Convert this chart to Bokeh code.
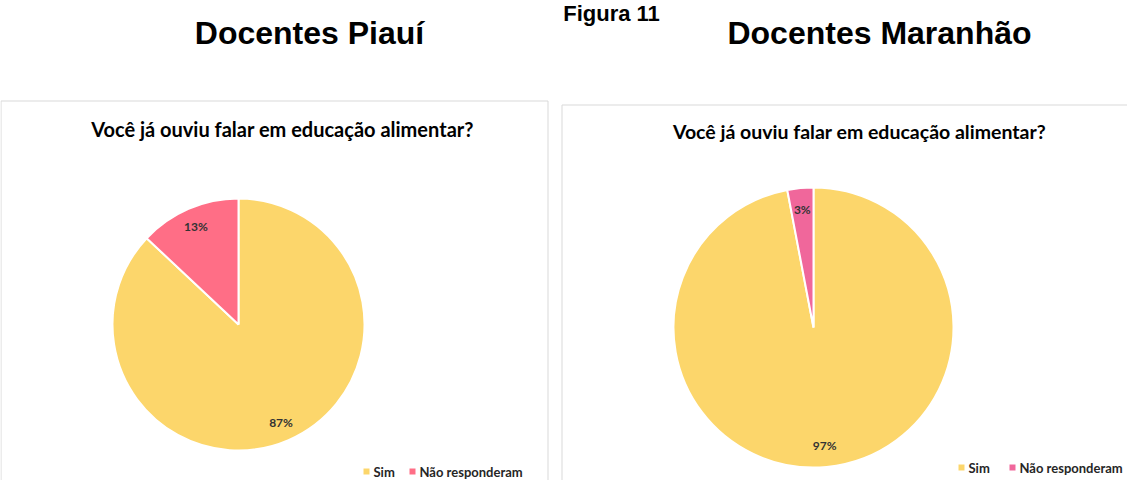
import numpy as np
from bokeh.plotting import figure
from bokeh.models import Range1d, ColumnDataSource
from bokeh.core.properties import value
from bokeh.embed import file_html
from bokeh.resources import INLINE

# ---- data ----
figure_label = "Figura 11"
headings = ["Docentes Piauí", "Docentes Maranhão"]
question = "Você já ouviu falar em educação alimentar?"
categories = ["Sim", "Não responderam"]
piaui_pct = [87, 13]
maranhao_pct = [97, 3]

# ---- styles / layout ----
YELLOW = "#FCD66B"
PINK_PI = "#FF6E86"
PINK_MA = "#F0679B"
W, H = 1127, 480

p = figure(width=W, height=H, x_range=Range1d(0, W), y_range=Range1d(-H, 0),
           output_backend="svg", toolbar_location=None, min_border=0,
           x_axis_type=None, y_axis_type=None)
p.outline_line_color = None
p.background_fill_color = "white"
p.border_fill_color = "white"
p.grid.grid_line_color = None

# figure label
p.text(x=[611], y=[-13], text=[figure_label], text_font=value("Liberation Sans"),
       text_font_style="bold", text_font_size="22px", text_align="center",
       text_baseline="middle", text_color="black")

panels = [
    dict(values=piaui_pct, heading_x=309, box=(0.5, 547.5, 100.5), title_x=282, title_y=128,
         title_size="20px", cx=238, cy=324, r=126, colors=[YELLOW, PINK_PI],
         legend_y=471, legend_x=[366, 412]),
    dict(values=maranhao_pct, heading_x=879, box=(561.5, 1300, 104.5), title_x=859, title_y=131,
         title_size="19.5px", cx=813, cy=327, r=140, colors=[YELLOW, PINK_MA],
         legend_y=467, legend_x=[961, 1012]),
]

for heading, pn in zip(headings, panels):
    # big heading
    p.text(x=[pn["heading_x"]], y=[-32], text=[heading], text_font=value("Liberation Sans"),
           text_font_style="bold", text_font_size="32px", text_align="center",
           text_baseline="middle", text_color="black")
    # panel box
    l, r_, t = pn["box"]
    p.line(x=[l, l, r_, r_], y=[-700, -t, -t, -700], line_color="#D9D9D9", line_width=1)
    # chart title
    p.text(x=[pn["title_x"]], y=[-pn["title_y"]], text=[question], text_font=value("Lato"),
           text_font_style="bold", text_font_size=pn["title_size"], text_align="center",
           text_baseline="middle", text_color="black")
    # pie (clockwise from 12 o'clock)
    vals = np.array(pn["values"], dtype=float)
    frac = vals / vals.sum()
    cum = np.concatenate([[0.0], np.cumsum(frac)])
    a = np.pi / 2 - 2 * np.pi * cum
    src = ColumnDataSource(dict(start=a[1:], end=a[:-1], color=pn["colors"], cat=categories))
    p.wedge(x=pn["cx"], y=-pn["cy"], radius=pn["r"], start_angle="start", end_angle="end",
            fill_color="color", line_color="white", line_width=2, source=src)
    mid = (a[1:] + a[:-1]) / 2
    lx = pn["cx"] + 0.85 * pn["r"] * np.cos(mid)
    ly = -pn["cy"] + 0.85 * pn["r"] * np.sin(mid)
    labels = [f"{int(v)}%" for v in vals]
    p.text(x=lx, y=ly, text=labels, text_font=value("Lato"), text_font_style="bold",
           text_font_size="12px", text_align="center", text_baseline="middle",
           text_color="#333333")
    # legend
    ys = [-pn["legend_y"]] * 2
    p.scatter(x=pn["legend_x"], y=ys, marker="square", size=6, fill_color=pn["colors"],
              line_color=None)
    p.text(x=[x + 7 for x in pn["legend_x"]], y=ys, text=categories, text_font=value("Lato"),
           text_font_style="bold", text_font_size="13px", text_align="left",
           text_baseline="middle", text_color="#262626")

open("out.html", "w").write(file_html(p, INLINE))
